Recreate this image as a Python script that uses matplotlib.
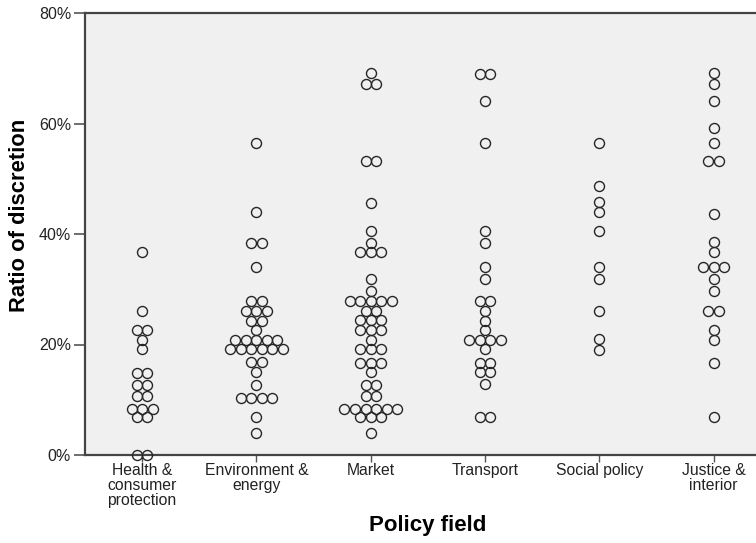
import numpy as np
import matplotlib.pyplot as plt
from matplotlib.ticker import PercentFormatter

plt.rcParams['font.family'] = ['Liberation Sans', 'DejaVu Sans']

categories = ['Health &\nconsumer\nprotection', 'Environment &\nenergy', 'Market',
              'Transport', 'Social policy', 'Justice &\ninterior']

# ratio of discretion (%) per policy field
health = [36.7, 26.1, 22.6, 22.6, 20.8, 19.1, 14.9, 14.9, 12.7, 12.7,
          10.6, 10.6, 8.4, 8.4, 8.4, 6.8, 6.8, 0, 0]
environment = [56.5, 43.9, 38.4, 38.4, 34.1, 27.9, 27.9, 26.0, 26.0, 26.0,
               24.3, 24.3, 22.6, 20.8, 20.8, 20.8, 20.8, 20.8,
               19.1, 19.1, 19.1, 19.1, 19.1, 19.1, 16.8, 16.8, 15.1, 12.7,
               10.4, 10.4, 10.4, 10.4, 6.9, 3.9]
market = [69.1, 67.1, 67.1, 53.2, 53.2, 45.7, 40.6, 38.4, 36.7, 36.7, 36.7,
          31.9, 29.7, 27.8, 27.8, 27.8, 27.8, 27.8, 26.1, 26.1,
          24.4, 24.4, 24.4, 22.6, 22.6, 22.6, 20.8, 19.1, 19.1, 19.1,
          16.7, 16.7, 16.7, 15.0, 12.7, 12.7, 10.6, 10.6,
          8.4, 8.4, 8.4, 8.4, 8.4, 8.4, 6.9, 6.9, 6.9, 3.9]
transport = [69.0, 69.0, 64.1, 56.5, 40.6, 38.4, 34.0, 31.8, 27.9, 27.9,
             26.1, 24.3, 22.6, 20.8, 20.8, 20.8, 20.8, 19.1, 16.7, 16.7,
             15.0, 15.0, 12.8, 6.8, 6.8]
social = [56.5, 48.6, 45.8, 44.0, 40.6, 34.1, 31.8, 26.1, 21.0, 19.0]
justice = [69.1, 67.1, 64.1, 59.1, 56.5, 53.2, 53.2, 43.7, 38.5, 36.7,
           34.0, 34.0, 34.0, 31.8, 29.7, 26.1, 26.1, 22.6, 20.8, 16.6, 6.8]

groups = [health, environment, market, transport, social, justice]

fig = plt.figure(figsize=(7.56, 5.43), dpi=100)
ax = fig.add_axes([85 / 756, 88 / 543, 671 / 756, 442 / 543])
ax.set_facecolor('#f0f0f0')

step = 0.092  # horizontal spacing of stacked dots
for i, vals in enumerate(groups):
    uniq, counts = np.unique(vals, return_counts=True)
    for v, n in zip(uniq, counts):
        xs = i + (np.arange(n) - (n - 1) / 2) * step
        ax.plot(xs, [v] * n, 'o', ms=7.2, mfc='none', mec='#262626',
                mew=1.0, clip_on=False, zorder=3)

ax.set_xlim(-0.5, 5.37)
ax.set_ylim(0, 80)
ax.set_xticks(range(len(categories)))
ax.set_xticklabels(categories, fontsize=11.3, color='#222222', linespacing=0.98)
ax.set_yticks([0, 20, 40, 60, 80])
ax.yaxis.set_major_formatter(PercentFormatter(decimals=0))
ax.tick_params(axis='y', labelsize=11.5, colors='#555555', length=8, width=1.2,
               labelcolor='#222222', pad=2)
ax.tick_params(axis='x', length=5, width=1, colors='#555555', labelcolor='#222222',
               pad=1)

for s in ['left', 'top', 'bottom']:
    ax.spines[s].set_color('#444444')
    ax.spines[s].set_linewidth(1.6)
ax.spines['right'].set_visible(False)

ax.set_ylabel('Ratio of discretion', fontsize=15.8, fontweight='bold')
ax.set_xlabel('Policy field', fontsize=16, fontweight='bold')
ax.yaxis.set_label_coords(-0.082, 0.543)
ax.xaxis.set_label_coords(0.511, -0.136)

fig.savefig('out.png', dpi=100)
